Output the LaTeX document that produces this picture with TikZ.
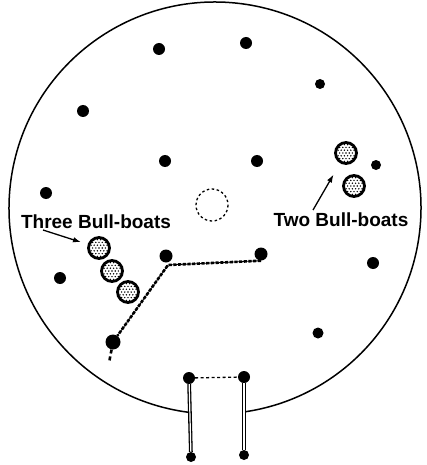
\documentclass[tikz,border=0pt]{standalone}
\usepackage{fontspec}
\setmainfont{Liberation Sans}
\usetikzlibrary{arrows.meta}

\begin{document}
\begin{tikzpicture}[x=1pt,y=-1pt,
stake/.style={circle,fill=black,inner sep=0pt,minimum size=12pt},
boat/.style={circle,draw,line width=2.8pt,minimum size=21pt,inner sep=0pt,
  path picture={\foreach \i in {-3,...,3} \foreach \j in {-3,...,3}
    \fill ([xshift={\i*3.2pt+mod(\j+4,2)*1.6pt},yshift={\j*2.8pt}]path picture bounding box.center) circle[radius=0.8pt];}},
label/.style={font=\fontsize{19}{22}\selectfont\bfseries,anchor=base},
arrow/.style={-{Latex[length=8pt,width=5.5pt]},line width=1.3pt},
rope/.style={line width=0.8pt,postaction={draw,line width=2.6pt,dash pattern=on 3.2pt off 1.5pt}},
shaft/.style={double=white,double distance=1.2pt,line width=1.3pt}
]
\useasboundingbox (0,0) rectangle (426,465);
% enclosure
\coordinate (ctr) at (215,208);
\draw[line width=1.5pt] (ctr) ++(97.25:206) arc[start angle=97.25,end angle=441.9,radius=206];
\draw[line width=1.3pt,dash pattern=on 2.5pt off 2.5pt] (212,205) circle[radius=16];
% stakes
\node[stake] (s1) at (159,49) {};
\node[stake] (s2) at (246,43) {};
\node[stake,minimum size=10pt] (s3) at (320,84) {};
\node[stake] (s4) at (83,111) {};
\node[stake] (s5) at (165,161) {};
\node[stake] (s6) at (257,161) {};
\node[stake,minimum size=10pt] (s7) at (376,165) {};
\node[stake] (s8) at (46,193) {};
\node[stake] (s9) at (60,278) {};
\node[stake,minimum size=13pt] (s10) at (166,256) {};
\node[stake,minimum size=13pt] (s11) at (261,254) {};
\node[stake] (s12) at (373,263) {};
\node[stake,minimum size=11pt] (s13) at (318,333) {};
\node[stake,minimum size=15pt] (anchor) at (113,342) {};
% bull-boats
\node[boat] (boatA) at (99,248) {};
\node[boat] (boatB) at (112,271) {};
\node[boat] (boatC) at (128,292) {};
\node[boat] (boatD) at (346,153) {};
\node[boat] (boatE) at (354,186) {};
% rope
\coordinate (bend) at (168,265);
\coordinate (tail) at (109,363);
\draw[rope] (s11.south) -- (bend) -- (anchor);
\draw[line width=2.6pt,dash pattern=on 4pt off 3pt] (anchor) -- (tail);
% labels
\node[label] (three) at (96,228) {Three Bull-boats};
\node[label] (two) at (341,226) {Two Bull-boats};
\coordinate (threetail) at (43,230);
\coordinate (twotail) at (313,210);
\draw[arrow,shorten >=7pt] (threetail) -- (boatA);
\draw[arrow,shorten >=13pt] (twotail) -- (boatD);
% gate
\node[stake,minimum size=12pt] (g1) at (189,378) {};
\node[stake,minimum size=12pt] (g2) at (244,377) {};
\node[stake,minimum size=10pt] (g3) at (191,457) {};
\node[stake,minimum size=10pt] (g4) at (244,455) {};
\draw[shaft] (g1) -- (g3);
\draw[shaft] (g2) -- (g4);
\draw[line width=1.3pt,dash pattern=on 3pt off 2.5pt] (g1) -- (g2);
\end{tikzpicture}
\end{document}
